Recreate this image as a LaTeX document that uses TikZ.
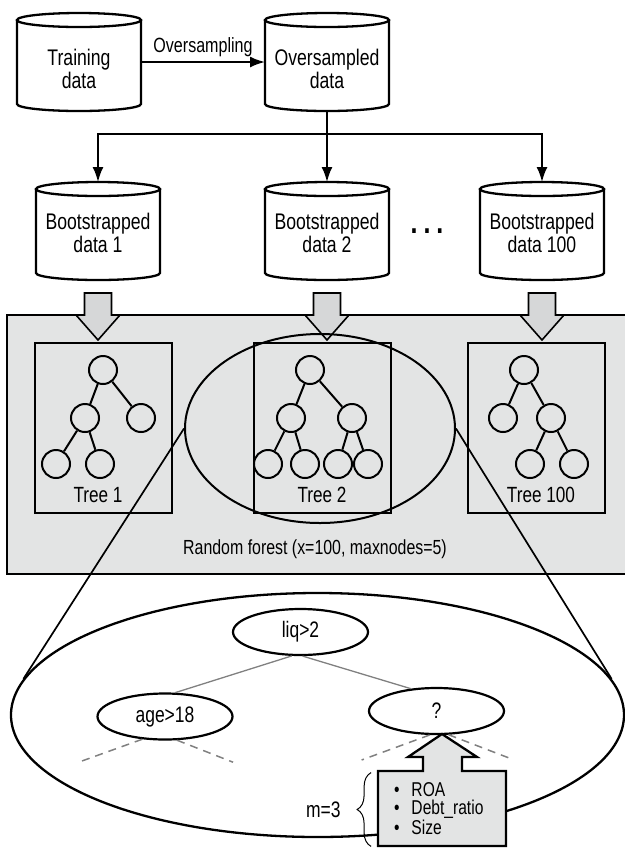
\documentclass[tikz,border=0pt]{standalone}
\usepackage{fontspec}
\setmainfont{Liberation Sans}[FakeStretch=0.78]
\usetikzlibrary{positioning,arrows.meta,shapes.geometric,calc,decorations.pathreplacing}

\definecolor{forestgrey}{RGB}{227,228,228}
\definecolor{arrowgrey}{RGB}{214,215,216}
\definecolor{branchgrey}{RGB}{128,128,128}

% outline of a data store round a db node
\newcommand{\dbshape}[1]{%
  \draw[dbline] ([yshift=-3.5pt]#1.north west) -- ([yshift=3.5pt]#1.south west)
    arc[start angle=180, end angle=360, x radius=31pt, y radius=3.5pt]
    -- ([yshift=-3.5pt]#1.north east);
  \draw[dbline] ([yshift=-3.5pt]#1.north) ellipse[x radius=31pt, y radius=3.5pt];}

% broad grey arrow hanging below a data store
\newcommand{\fatdown}[1]{%
  \draw[fatarrow] #1 ++(-13.5,13) -- ++(27,0) -- ++(0,22) -- ++(8.5,0)
    -- ++(-22,25) -- ++(-22,-25) -- ++(8.5,0) -- cycle;}

\begin{document}
\begin{tikzpicture}[
    x=0.5pt, y=-0.5pt,
    >={Latex[length=7.5pt,width=5.5pt]},
    db/.style={
        minimum width=62pt,
        minimum height=49pt,
        inner sep=0pt,
        outer sep=0pt,
        align=center,
        font=\fontsize{11.3}{11.5}\selectfont
    },
    dbline/.style={line width=1.15pt},
    forestbox/.style={
        draw,
        fill=forestgrey,
        line width=1.15pt,
        minimum width=314pt,
        minimum height=129.5pt
    },
    fatarrow/.style={draw, fill=arrowgrey, line width=0.8pt},
    treebox/.style={
        draw,
        line width=1.15pt,
        minimum width=68.5pt,
        minimum height=85pt
    },
    treelabel/.style={inner sep=0pt, font=\fontsize{11}{11}\selectfont},
    leaf/.style={circle, draw, line width=1pt, minimum size=14pt, inner sep=0pt},
    twig/.style={line width=1pt},
    ring/.style={ellipse, draw, line width=1pt, minimum width=135pt, minimum height=94.5pt},
    lens/.style={line width=0.85pt},
    detail/.style={ellipse, draw, line width=1.15pt, minimum width=306.5pt, minimum height=122pt},
    cond/.style={
        ellipse,
        draw,
        line width=1.1pt,
        minimum width=67.5pt,
        minimum height=23pt,
        inner sep=0pt,
        font=\fontsize{11.2}{11.2}\selectfont
    },
    branch/.style={draw=branchgrey, line width=0.65pt},
    stub/.style={draw=branchgrey, line width=0.75pt, dash pattern=on 4pt off 3pt},
    featbox/.style={draw, fill=forestgrey, line width=1.15pt},
    featlist/.style={
        minimum width=64pt,
        minimum height=37.5pt,
        text width=48pt,
        inner xsep=8.25pt,
        align=left,
        font=\fontsize{10}{9}\selectfont
    },
    bracket/.style={decorate, decoration={brace, amplitude=7pt}, line width=0.5pt}
]
\useasboundingbox (0,0) rectangle (625,848);

% data stores
\node[db] (train) at (79,62) {\rule{0pt}{15pt}Training\\data};
\node[db] (overs) at (327,62) {\rule{0pt}{15pt}Oversampled\\data};

\draw[->, line width=1pt] (train) -- (overs)
    node[midway, above=2pt, inner sep=0pt, font=\fontsize{10.3}{10.3}\selectfont] {Oversampling};

\node[db] (boot1) at (98,231) {\rule{0pt}{10pt}Bootstrapped\\data 1};
\node[db] (boot2) at (327,231) {\rule{0pt}{10pt}Bootstrapped\\data 2};
\node[db] (boot3) at (542,231) {\rule{0pt}{10pt}Bootstrapped\\data 100};
\node[font=\fontsize{16}{16}\selectfont\bfseries] (dots) at (427,231) {.\hspace{3pt}.\hspace{3pt}.};

\foreach \n in {train,overs,boot1,boot2,boot3} {\dbshape{\n}}

\coordinate (split) at ($(overs.south)+(0,23)$);
\draw[->, line width=1pt] (overs.south) -- (boot2.north);
\draw[->, line width=1pt] (split) -| (boot1.north);
\draw[->, line width=1pt] (split) -| (boot3.north);

% the forest
\node[forestbox] (forest) at (321,444.5) {};

\foreach \i in {1,2,3} {\fatdown{(boot\i.south)}}

\node[treebox] (tree1) at (103.5,428) {};
\node[treebox] (tree2) at (322.5,428) {};
\node[treebox] (tree3) at (536.5,428) {};

\node[treelabel] (lab1) at (98,495) {Tree 1};
\node[treelabel] (lab2) at (322,495) {Tree 2};
\node[treelabel] (lab3) at (541,495) {Tree 100};

% tree 1
\node[leaf] (t1r) at (103,370) {};
\node[leaf] (t1a) at (85,418) {};
\node[leaf] (t1b) at (141,418) {};
\node[leaf] (t1aa) at (56,464) {};
\node[leaf] (t1ab) at (100,464) {};
\draw[twig] (t1r) -- (t1a);
\draw[twig] (t1r) -- (t1b);
\draw[twig] (t1a) -- (t1aa);
\draw[twig] (t1a) -- (t1ab);

% tree 2
\node[leaf] (t2r) at (310,370) {};
\node[leaf] (t2a) at (291,418) {};
\node[leaf] (t2b) at (352,418) {};
\node[leaf] (t2aa) at (268,464) {};
\node[leaf] (t2ab) at (305,464) {};
\node[leaf] (t2ba) at (338,464) {};
\node[leaf] (t2bb) at (368,464) {};
\draw[twig] (t2r) -- (t2a);
\draw[twig] (t2r) -- (t2b);
\draw[twig] (t2a) -- (t2aa);
\draw[twig] (t2a) -- (t2ab);
\draw[twig] (t2b) -- (t2ba);
\draw[twig] (t2b) -- (t2bb);

% tree 100
\node[leaf] (t3r) at (524,370) {};
\node[leaf] (t3a) at (503,418) {};
\node[leaf] (t3b) at (551,418) {};
\node[leaf] (t3ba) at (530,464) {};
\node[leaf] (t3bb) at (574,464) {};
\draw[twig] (t3r) -- (t3a);
\draw[twig] (t3r) -- (t3b);
\draw[twig] (t3b) -- (t3ba);
\draw[twig] (t3b) -- (t3bb);

\node[font=\fontsize{10.2}{10.2}\selectfont, inner sep=0pt] (rflab) at (315,549)
    {Random forest (x=100, maxnodes=5)};

% close-up of one tree
\node[ring] (ring) at (320,428.5) {};
\node[detail] (detail) at (317.5,715) {};
\draw[lens] (ring.west) -- (detail.173);
\draw[lens] (ring.east) -- (detail.7);

\node[cond] (liq) at (300.5,632) {liq>2};
\node[cond] (age) at (165,716.5) {age>18};
\node[cond] (qn) at (436.5,711) {?};

\draw[branch] (liq.250) -- (age.67);
\draw[branch] (liq.275) -- (qn.139);

\draw[stub] (age.225) -- ++(-61,22);
\draw[stub] (age.297) -- ++(56,22);
\draw[stub] (qn.254) -- ++(-68,25);
\draw[stub] (qn.297) -- ++(65,25);

% candidate variables pushed up into the open split
\coordinate (featc) at (442,808.5);
\draw[featbox] (featc) ++(-64,37.5) -- ++(0,-75) -- ++(45,0) -- ++(0,-14) -- ++(-15,0)
    -- ++(34,-23) -- ++(35,23) -- ++(-15,0) -- ++(0,14) -- ++(44,0) -- ++(0,75) -- cycle;
\node[featlist] (feat) at (featc) {%
    \makebox[8.75pt][l]{\textbullet}ROA\\
    \makebox[8.75pt][l]{\textbullet}Debt\_ratio\\
    \makebox[8.75pt][l]{\textbullet}Size};

\draw[bracket] ([xshift=-3pt]feat.south west) -- ([xshift=-3pt,yshift=-1pt]feat.north west)
    node[midway, left=15pt, inner sep=0pt, font=\fontsize{11.2}{11.2}\selectfont] {m=3};

\end{tikzpicture}
\end{document}
